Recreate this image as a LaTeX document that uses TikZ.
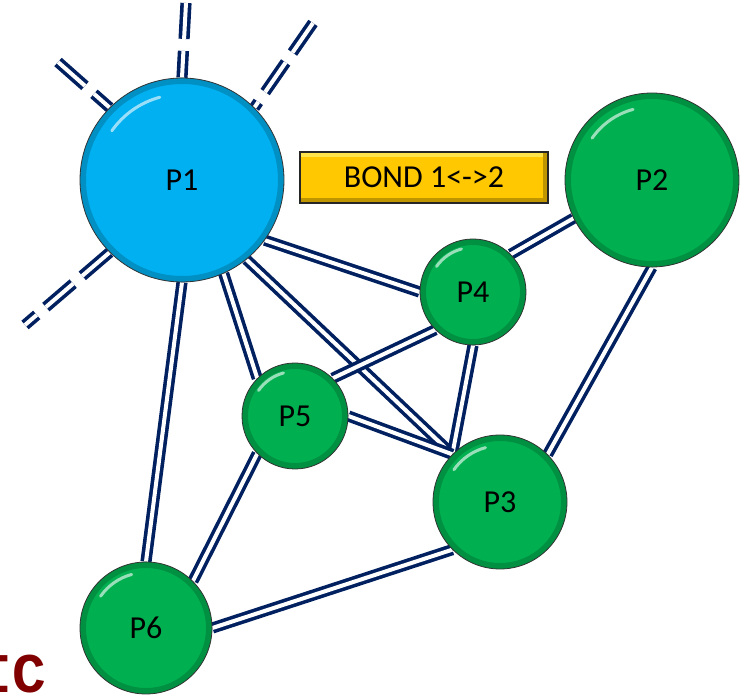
\documentclass[tikz,border=0pt]{standalone}
\usepackage{fontspec}
\setmainfont{Carlito}
\newfontfamily\tagfont{Liberation Mono}
\usetikzlibrary{calc,backgrounds}

\definecolor{bondblue}{RGB}{0,32,96}
\definecolor{pblue}{RGB}{0,176,240}
\definecolor{pgreen}{RGB}{0,176,80}
\definecolor{boxgold}{RGB}{255,200,0}
\definecolor{tagred}{RGB}{128,0,0}

\tikzset{
  particle/.style={circle, draw=black!80, line width=0.8pt, fill=#1, inner sep=0pt,
    font=\fontsize{32}{36}\selectfont,
    path picture={
      % darker rim
      \draw[#1!60!black, opacity=.45, line width=6pt] let \p1=($(path picture bounding box.north east)-(path picture bounding box.center)$) in
        (path picture bounding box.center) circle[radius=\x1-3pt];
      % highlight
      \draw[white, opacity=.6, line width=3pt, line cap=round] let \p1=($(path picture bounding box.north east)-(path picture bounding box.center)$) in
        ($(path picture bounding box.center)+(105:0.84*\x1)$) arc[start angle=105, end angle=145, radius=0.84*\x1];
    }},
  bondbox/.style={draw=black!85, line width=1.5pt, fill=boxgold, inner sep=0pt,
    minimum width=248pt, minimum height=51pt, font=\fontsize{32}{36}\selectfont,
    path picture={
      \fill[boxgold!75!black] (path picture bounding box.south west) rectangle ([yshift=5pt]path picture bounding box.south east);
      \fill[boxgold!75!black] ([xshift=-5pt]path picture bounding box.south east) rectangle (path picture bounding box.north east);
      \fill[yellow!50!white, opacity=.6] ([yshift=-5pt]path picture bounding box.north west) rectangle ([xshift=-5pt]path picture bounding box.north east);
    }},
  bond/.style={draw=bondblue, line width=3.6pt, double=white, double distance=4pt},
  loose/.style={bond, dash pattern=on 36pt off 12pt},
}

\begin{document}
\begin{tikzpicture}[x=1pt, y=1pt]
  \useasboundingbox (0,0) rectangle (745,699);

  % particles
  \node[particle=pblue,  minimum size=204pt] (P1) at (182,519) {P1};
  \node[particle=pgreen, minimum size=174pt] (P2) at (652,519) {P2};
  \node[particle=pgreen, minimum size=134pt] (P3) at (500,197) {P3};
  \node[particle=pgreen, minimum size=106pt] (P4) at (473,407) {P4};
  \node[particle=pgreen, minimum size=106pt] (P5) at (295,283) {P5};
  \node[particle=pgreen, minimum size=132pt] (P6) at (146,71)  {P6};

  % label
  \node[bondbox] (bond12) at (424,521.5) {BOND 1<->2};

  % loose ends of P1
  \coordinate (endNW) at (58,637);
  \coordinate (endN)  at (186,696);
  \coordinate (endNE) at (313,676);
  \coordinate (endSW) at (25,374);

  \begin{scope}[on background layer]
    % bonds
    \draw[bond] (P1.-36) -- (P4.west);
    \draw[bond] (P1.-51) -- (P3.north west);
    \draw[bond] (P1.-66) -- (P5.north west);
    \draw[bond] (P1.south) -- (P6.north);
    \draw[bond] (P2.206) -- (P4.north east);
    \draw[bond] (P2.south) -- (P3.north east);
    \draw[bond] (P4.south) -- (P3.north west);
    \draw[bond] (P4.south west) -- (P5.north east);
    \draw[bond] (P5.east) -- (P3.north west);
    \draw[bond] (P5.south west) -- (P6.north east);
    \draw[bond] (P6.east) -- (P3.south west);
    % broken bonds
    \draw[loose] (endNW) -- (P1.north west);
    \draw[loose] (endN) -- (P1.north);
    \draw[loose] (endNE) -- (P1.north east);
    \draw[loose] (P1.south west) -- (endSW);
  \end{scope}

  % tag
  \node[font=\tagfont\bfseries\fontsize{56}{60}\selectfont, text=tagred, anchor=base east, inner sep=0pt] (tag) at (46,6) {IC};
\end{tikzpicture}
\end{document}
